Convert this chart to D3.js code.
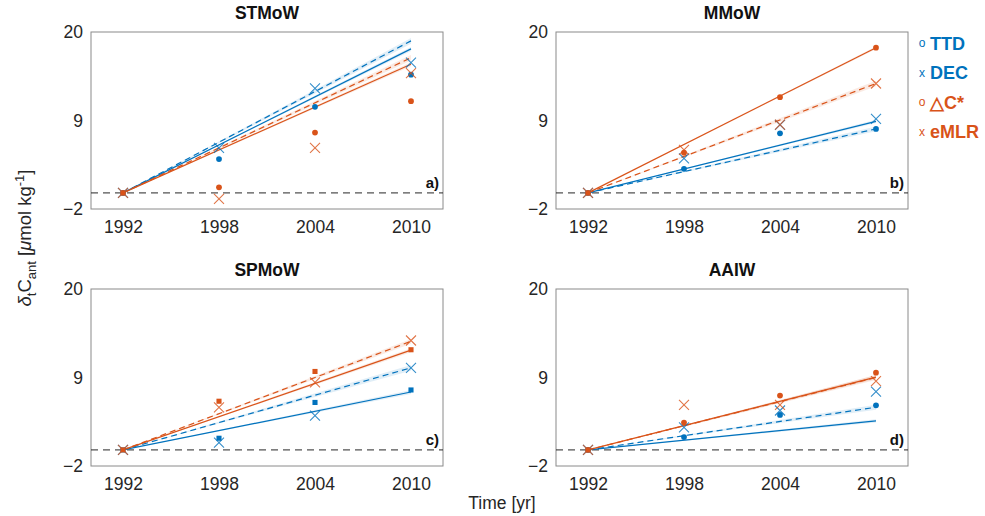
<!DOCTYPE html>
<html>
<head>
<meta charset="utf-8">
<script src="https://cdn.jsdelivr.net/npm/d3@7"></script>
<style>
  html, body { margin: 0; padding: 0; background: #fff; }
  svg text { font-family: "Liberation Sans", Arial, Helvetica, sans-serif; }
</style>
</head>
<body>
<svg id="chart" width="985" height="516"></svg>
<script>
// Sampling years and axis ticks
const years = [1992, 1998, 2004, 2010];
const xTicks = [1992, 1998, 2004, 2010];
const yTicks = [-2, 9, 20];

// Water masses (one panel each)
const panelNames = ["STMoW", "MMoW", "SPMoW", "AAIW"];
const panelTags = ["a)", "b)", "c)", "d)"];

// Method names shown in the legend
const methodNames = ["TTD", "DEC", "\u25B3C*", "eMLR"];

// Per-panel change in Cant (µmol kg-1) at each sampling year
const ttdValues = [
  [0, 4.2, 10.7, 14.7],
  [0, 3.0, 7.4, 7.95],
  [0, 1.45, 5.9, 7.45],
  [0, 1.6, 4.35, 5.55]
];
const decValues = [
  [0, 5.6, 13.0, 16.2],
  [0, 4.3, 8.45, 9.2],
  [0, 0.9, 4.25, 10.2],
  [0, 2.8, 4.9, 7.25]
];
const dcstarValues = [
  [0, 0.7, 7.5, 11.4],
  [0, 5.0, 11.9, 18.05],
  [0, 6.05, 9.75, 12.45],
  [0, 3.4, 6.75, 9.6]
];
const emlrValues = [
  [0, -0.75, 5.6, 14.9],
  [0, 5.35, 8.5, 13.6],
  [0, 5.3, 8.4, 13.6],
  [0, 5.6, 5.6, 8.55]
];

// Trend-line values reached in 2010 (lines start from 0 in 1992)
const ttdTrend = [17.9, 8.9, 7.2, 3.6];
const decTrend = [18.9, 7.95, 10.2, 5.3];
const dcstarTrend = [16.0, 18.05, 12.4, 9.05];
const emlrTrend = [16.8, 13.6, 13.5, 9.0];

// Half-width of the trend uncertainty band in 2010
const ttdBand = [0.25, 0.2, 0.25, 0.2];
const decBand = [0.35, 0.3, 0.35, 0.3];
const dcstarBand = [0.25, 0.15, 0.25, 0.25];
const emlrBand = [0.35, 0.35, 0.3, 0.3];

const BLUE = "#0072BD", ORANGE = "#D95319";

const methods = [
  { values: ttdValues, trend: ttdTrend, band: ttdBand, color: BLUE, dash: null, marker: "dot" },
  { values: decValues, trend: decTrend, band: decBand, color: BLUE, dash: "6,4", marker: "cross" },
  { values: dcstarValues, trend: dcstarTrend, band: dcstarBand, color: ORANGE, dash: null, marker: "dot" },
  { values: emlrValues, trend: emlrTrend, band: emlrBand, color: ORANGE, dash: "6,4", marker: "cross" }
];

const svg = d3.select("#chart");

// Panel boxes: [left, top] in px; all share the same size
const boxW = 352, boxH = 177;
const boxes = [[91, 32], [556, 32], [91, 289], [556, 289]];
// Filled markers in the SPMoW panel are drawn as squares
const dotShape = [d3.symbolCircle, d3.symbolCircle, d3.symbolSquare, d3.symbolCircle];

boxes.forEach(([bx, by], p) => {
  const x = d3.scaleLinear().domain([1990, 2012]).range([bx, bx + boxW]);
  const y = d3.scaleLinear().domain([-2, 20]).range([by + boxH, by]);
  const g = svg.append("g");

  g.append("rect")
    .attr("x", bx).attr("y", by).attr("width", boxW).attr("height", boxH)
    .attr("fill", "#fff").attr("stroke", "#8a8a8a").attr("stroke-width", 1);

  // Axes (labels only, box drawn above)
  const xAxis = d3.axisBottom(x).tickValues(xTicks).tickFormat(d3.format("d")).tickSize(0).tickPadding(12);
  g.append("g").attr("transform", `translate(0,${by + boxH})`).call(xAxis)
    .call(a => a.select(".domain").remove())
    .selectAll("text").attr("font-size", 17.5).attr("fill", "#262626")
    .attr("font-family", "Liberation Sans, Arial, sans-serif");
  const yAxis = d3.axisLeft(y).tickValues(yTicks).tickSize(0).tickPadding(8);
  g.append("g").attr("transform", `translate(${bx},0)`).call(yAxis)
    .call(a => a.select(".domain").remove())
    .selectAll("text").attr("font-size", 17.5).attr("fill", "#262626")
    .attr("font-family", "Liberation Sans, Arial, sans-serif");

  // Zero reference line
  g.append("line")
    .attr("x1", bx).attr("x2", bx + boxW).attr("y1", y(0)).attr("y2", y(0))
    .attr("stroke", "#262626").attr("stroke-width", 1).attr("stroke-dasharray", "7,5");

  // Trend bands and lines
  methods.forEach(m => {
    const v = m.trend[p], w = m.band[p];
    const band = [[years[0], 0, 0], [years[3], v - w, v + w]];
    g.append("path")
      .attr("d", d3.area().x(d => x(d[0])).y0(d => y(d[1])).y1(d => y(d[2]))(band))
      .attr("fill", m.color).attr("fill-opacity", 0.12);
  });
  methods.forEach(m => {
    g.append("line")
      .attr("x1", x(years[0])).attr("y1", y(0))
      .attr("x2", x(years[3])).attr("y2", y(m.trend[p]))
      .attr("stroke", m.color).attr("stroke-width", 1.2)
      .attr("stroke-dasharray", m.dash);
  });

  // Markers
  methods.forEach(m => {
    m.values[p].forEach((v, i) => {
      const cx = x(years[i]), cy = y(v);
      if (m.marker === "dot") {
        g.append("path")
          .attr("d", d3.symbol().type(dotShape[p]).size(26)())
          .attr("transform", `translate(${cx},${cy})`)
          .attr("fill", m.color);
      } else {
        const s = 5;
        g.append("path")
          .attr("d", `M${cx - s},${cy - s}L${cx + s},${cy + s}M${cx - s},${cy + s}L${cx + s},${cy - s}`)
          .attr("stroke", m.color).attr("stroke-opacity", 0.8).attr("stroke-width", 1.1).attr("fill", "none");
      }
    });
  });

  // Panel tag
  g.append("text")
    .attr("x", bx + boxW - 4).attr("y", y(0) - 5)
    .attr("text-anchor", "end").attr("font-size", 15).attr("font-weight", "bold")
    .attr("fill", "#111").text(panelTags[p]);

  // Title
  g.append("text")
    .attr("x", bx + boxW / 2).attr("y", by - 13)
    .attr("text-anchor", "middle").attr("font-size", 17.5).attr("font-weight", "bold")
    .attr("fill", "#111").text(panelNames[p]);
});

// Legend
const legendTop = 43, legendStep = 29.6;
methods.forEach((m, i) => {
  const ly = legendTop + i * legendStep;
  svg.append("text")
    .attr("x", 922).attr("y", ly + 4)
    .attr("text-anchor", "middle").attr("font-size", 12).attr("fill", m.color)
    .text(m.marker === "dot" ? "o" : "x");
  svg.append("text")
    .attr("x", 930).attr("y", ly + 6.5)
    .attr("font-size", 18).attr("font-weight", "bold").attr("fill", m.color)
    .text(methodNames[i]);
});

// X axis title
svg.append("text")
  .attr("x", 502).attr("y", 509)
  .attr("text-anchor", "middle").attr("font-size", 17.5).attr("fill", "#262626")
  .text("Time [yr]");

// Y axis title: δ_t C_ant [µmol kg^-1]
const yl = svg.append("text")
  .attr("transform", "translate(31,238) rotate(-90)")
  .attr("text-anchor", "middle").attr("font-size", 18.5).attr("fill", "#262626");
yl.append("tspan").attr("font-style", "italic").text("\u03B4");
yl.append("tspan").attr("font-size", 13).attr("dy", 5).text("t");
yl.append("tspan").attr("dy", -5).text("C");
yl.append("tspan").attr("font-size", 13).attr("dy", 5).text("ant");
yl.append("tspan").attr("dy", -5).text(" [");
yl.append("tspan").attr("font-style", "italic").text("\u03BC");
yl.append("tspan").text("mol kg");
yl.append("tspan").attr("font-size", 13).attr("dy", -7).text("-1");
yl.append("tspan").attr("dy", 7).text("]");
</script>
</body>
</html>
